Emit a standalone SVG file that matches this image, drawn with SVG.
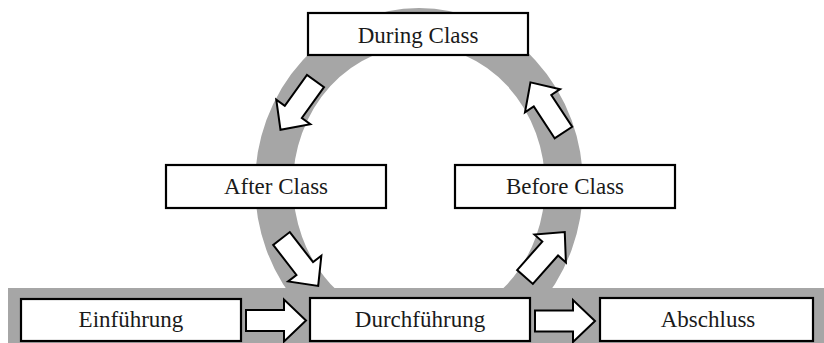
<svg xmlns="http://www.w3.org/2000/svg" xmlns:xlink="http://www.w3.org/1999/xlink" width="824" height="343" viewBox="0 0 824 343">
  <style>
    .box { fill: #ffffff; stroke: #000000; stroke-width: 2.2; }
    .lbl { font-family: "Liberation Serif", "Times New Roman", serif; font-size: 23px; fill: #1a1a1a; text-anchor: middle; }
    .arr { fill: #ffffff; stroke: #000000; stroke-width: 2; stroke-linejoin: miter; }
  </style>
  <defs>
    <path id="blk" d="M0,-10.5 L38,-10.5 L38,-21 L60,0 L38,21 L38,10.5 L0,10.5 Z"/>
  </defs>
  <rect width="824" height="343" fill="#ffffff"/>
  <g id="background">
    <ellipse cx="419" cy="185" rx="145" ry="158" fill="none" stroke="#a6a6a6" stroke-width="38"/>
    <rect x="8" y="288" width="816" height="60" fill="#a6a6a6"/>
  </g>
  <g id="during-class">
    <rect class="box" x="308" y="13" width="220" height="42"/>
    <text class="lbl" x="418" y="43">During Class</text>
  </g>
  <g id="after-class">
    <rect class="box" x="166" y="165" width="220" height="43"/>
    <text class="lbl" x="276" y="194">After Class</text>
  </g>
  <g id="before-class">
    <rect class="box" x="455" y="165" width="220" height="43"/>
    <text class="lbl" x="565" y="194">Before Class</text>
  </g>
  <g id="einfuehrung">
    <rect class="box" x="21" y="299" width="220" height="42"/>
    <text class="lbl" x="131" y="327">Einführung</text>
  </g>
  <g id="durchfuehrung">
    <rect class="box" x="310" y="298" width="220" height="43"/>
    <text class="lbl" x="420" y="327">Durchführung</text>
  </g>
  <g id="abschluss">
    <rect class="box" x="600" y="298" width="213" height="43"/>
    <text class="lbl" x="708" y="327">Abschluss</text>
  </g>
  <g id="connectors">
    <use class="arr" xlink:href="#blk" transform="translate(246,320.5)"/>
    <use class="arr" xlink:href="#blk" transform="translate(535,321)"/>
    <use class="arr" xlink:href="#blk" transform="translate(315.5,81) rotate(125.7)"/>
    <use class="arr" xlink:href="#blk" transform="translate(563.4,132.5) rotate(-123.3)"/>
    <use class="arr" xlink:href="#blk" transform="translate(281.5,238.5) rotate(52.3)"/>
    <use class="arr" xlink:href="#blk" transform="translate(525,277) rotate(-48.5)"/>
  </g>
</svg>
